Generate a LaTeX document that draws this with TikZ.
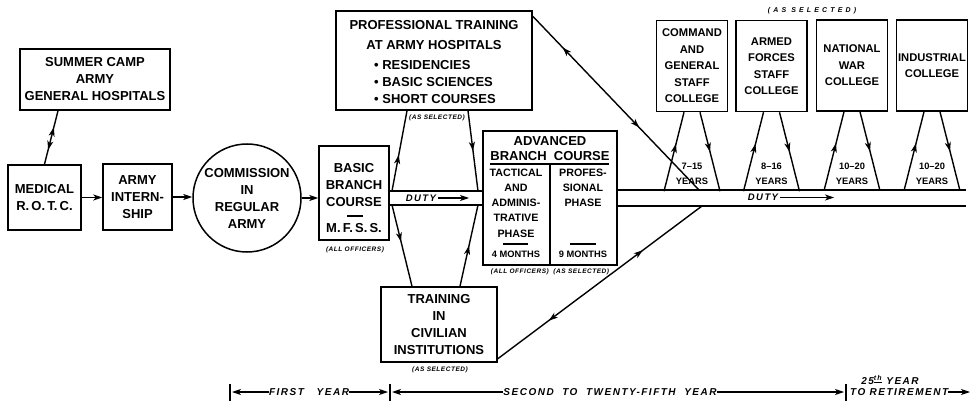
\documentclass[tikz,border=0pt]{standalone}
\usepackage{fontspec}
\setmainfont{Liberation Sans}
\usetikzlibrary{arrows.meta,decorations.markings}

\tikzset{
  box/.style={draw, line width=1.5pt, inner sep=0pt, align=center,
    font=\fontsize{13}{17}\selectfont\bfseries},
  college/.style={box, minimum width=71pt, minimum height=91pt,
    font=\fontsize{11.2}{16.5}\selectfont\bfseries},
  txt/.style={inner sep=0pt, align=center, font=\fontsize{13}{17}\selectfont\bfseries},
  colw/.style={inner sep=0pt, align=center, font=\fontsize{10.7}{15.3}\selectfont\bfseries},
  months/.style={inner sep=0pt, font=\fontsize{9.3}{10}\selectfont\bfseries},
  note/.style={inner sep=0pt, font=\fontsize{6.5}{7}\selectfont\bfseries\itshape\addfontfeature{LetterSpace=8}},
  notewide/.style={inner sep=0pt, font=\fontsize{7}{8}\selectfont\bfseries\itshape\addfontfeature{LetterSpace=45}},
  years/.style={inner sep=0pt, align=center, font=\fontsize{9.3}{15}\selectfont\bfseries},
  duty/.style={inner sep=0pt, font=\fontsize{9.5}{10}\selectfont\bfseries\itshape\addfontfeature{LetterSpace=15}},
  spanlabel/.style={inner sep=0pt, font=\fontsize{10}{11}\selectfont\bfseries\itshape\addfontfeature{LetterSpace=15}},
  link/.style={line width=1.4pt},
  thin/.style={line width=1.1pt},
  fwd/.style={postaction={decorate,decoration={markings,
    mark=at position #1 with {\arrow{>}}}}},
  back/.style={postaction={decorate,decoration={markings,
    mark=at position #1 with {\arrowreversed{>}}}}},
}

\begin{document}
\begin{tikzpicture}[x=1pt,y=-1pt,>={Stealth[length=9pt,width=6pt,inset=2.5pt]}]
\useasboundingbox (0,0) rectangle (971,403);

% first year
\node[box,minimum width=150pt,minimum height=61pt] (camp) at (95,79.5) {SUMMER CAMP\\ARMY\\GENERAL HOSPITALS};
\node[box,minimum width=73pt,minimum height=65pt] (rotc) at (44.5,197.5) {MEDICAL\\R.\,O.\,T.\,C.};
\node[box,minimum width=69pt,minimum height=66pt] (intern) at (137.5,197) {ARMY\\INTERN-\\SHIP};
\node[box,circle,minimum size=108pt] (commission) at (247,198) {COMMISSION\\IN\\REGULAR\\ARMY};

\draw[link,back=0.27,fwd=0.69] (rotc.north) -- ([xshift=-37pt]camp.south);
\draw[link,->] (rotc.east) -- (intern.west |- rotc.east);
\draw[link,->] (intern.east) -- (commission.west |- intern.east);

% basic branch course
\node[box,minimum width=70pt,minimum height=94pt] (basic) at (354,193) {};
\node[txt] (basicname) at (354,185) {BASIC\\BRANCH\\COURSE};
\draw[link] (347,216) -- (363,216);
\node[txt] (mfss) at (354,228) {M.\,F.\,S.\,S.};
\node[note] (basicsel) at (355,250) {(ALL OFFICERS)};
\draw[link,->] (commission.east) -- (basic.west |- commission.east);

% professional training
\node[box,minimum width=196pt,minimum height=99pt] (prof) at (434,60.5) {};
\node[txt] (profhead) at (434,35) {PROFESSIONAL TRAINING\\[3pt]AT ARMY HOSPITALS};
\node[txt,align=left,anchor=west] (proflist) at (374,82) {\textbullet\ RESIDENCIES\\\textbullet\ BASIC SCIENCES\\\textbullet\ SHORT COURSES};
\node[note] (profsel) at (437,118) {(AS SELECTED)};

% advanced branch course
\node[box,minimum width=134pt,minimum height=134pt] (adv) at (550,198) {};
\node[txt] (advname) at (550,149) {ADVANCED\\[-2pt]BRANCH\ \ COURSE};
\draw[link] (490,164) -- (609,164);
\draw[link] (550,164) -- (adv.south);
\node[colw] (tact) at (516,203) {TACTICAL\\AND\\ADMINIS-\\TRATIVE\\PHASE};
\node[colw] (profes) at (583,188) {PROFES-\\SIONAL\\PHASE};
\draw[link] (503,244) -- (528,244);
\draw[link] (570,244) -- (596,244);
\node[months] (fourm) at (516,254) {4 MONTHS};
\node[months] (ninem) at (583,254) {9 MONTHS};
\node[note] (advsel) at (550,272) {(ALL OFFICERS)\ \ (AS SELECTED)};

% civilian institutions
\node[box,minimum width=116pt,minimum height=75pt] (civil) at (439,324.5) {TRAINING\\IN\\CIVILIAN\\INSTITUTIONS};
\node[note] (civilsel) at (440,370) {(AS SELECTED)};

% duty bands
\coordinate (bandA) at (392,191);
\coordinate (bandB) at (478,191);
\coordinate (bandC) at (392,205);
\coordinate (bandD) at (478,205);
\coordinate (bandE) at (699,190);
\coordinate (bandF) at (702,206);
\coordinate (bandtop) at (966,190);
\coordinate (bandbot) at (966,206);
\draw[link] (basic.east |- bandA) -- (adv.west |- bandA);
\draw[link] (basic.east |- bandC) -- (adv.west |- bandC);
\draw[link] (adv.east |- bandtop) -- (bandtop);
\draw[link] (adv.east |- bandbot) -- (bandbot);

\node[duty] (duty1) at (421,198) {DUTY};
\coordinate (duty1tip) at (469,198);
\draw[thin,->] ([xshift=2pt]duty1.east) -- (duty1tip);
\node[duty] (duty2) at (763,197.5) {DUTY};
\coordinate (duty2tip) at (834,197.5);
\draw[thin,->] ([xshift=2pt]duty2.east) -- (duty2tip);

\draw[link,fwd=0.45] (bandA) -- ([xshift=-27pt]prof.south);
\draw[link,fwd=0.5] ([xshift=34pt]prof.south) -- (bandB);
\draw[link,fwd=0.45] (bandC) -- ([xshift=-27pt]civil.north);
\draw[link,fwd=0.5] ([xshift=21pt]civil.north) -- (bandD);
\draw[link,back=0.18,fwd=0.64] ([yshift=-6pt]prof.north east) -- (bandE);
\draw[link,back=0.25,fwd=0.71] ([yshift=4pt]civil.south east) -- (bandF);

% senior schools
\node[notewide] (collsel) at (812,11) {(AS SELECTED)};
\node[college] (cgsc) at (692,66) {COMMAND\\AND\\GENERAL\\STAFF\\COLLEGE};
\node[college] (afsc) at (771.5,66) {ARMED\\FORCES\\STAFF\\COLLEGE};
\node[college] (nwc) at (852,65.5) {NATIONAL\\WAR\\COLLEGE};
\node[college] (icaf) at (932,65.5) {INDUSTRIAL\\COLLEGE};

\foreach \n/\t in {cgsc/7--15, afsc/8--16, nwc/10--20, icaf/10--20}{
  \path (\n.south) ++(-28,79) coordinate (\n-up) ++(56,0) coordinate (\n-down);
  \draw[link,fwd=0.6] (\n-up) -- ([xshift=-8pt]\n.south);
  \draw[link,fwd=0.5] ([xshift=8pt]\n.south) -- (\n-down);
  \node[years] (\n-yrs) at ([yshift=-62pt]\n.south) {\t\\YEARS};
}

% time scale
\draw[link] (230,384) -- (230,401);
\draw[link] (390,384) -- (390,401);
\draw[link] (846,384) -- (846,401);
\coordinate (t1l) at (232,392);
\coordinate (t1r) at (388,392);
\coordinate (t2l) at (392,392);
\coordinate (t2r) at (844,392);
\coordinate (t3r) at (970,392);
\node[spanlabel] (yr1) at (309,392) {FIRST\ \ \ YEAR};
\node[spanlabel] (yr2) at (610,392) {SECOND\ \ TO\ \ TWENTY-FIFTH\ \ YEAR};
\node[spanlabel] (yr3) at (890,380) {25\textsuperscript{\underline{th}} YEAR};
\node[spanlabel,anchor=west] (yr4) at (850,392) {TO RETIREMENT};
\draw[thin,->] (yr1.west) -- (t1l);
\draw[thin,->] (yr1.east) -- (t1r);
\draw[thin,->] (yr2.west) -- (t2l);
\draw[thin,->] (yr2.east) -- (t2r);
\draw[thin,->] (yr4.east) -- (t3r);
\end{tikzpicture}
\end{document}
